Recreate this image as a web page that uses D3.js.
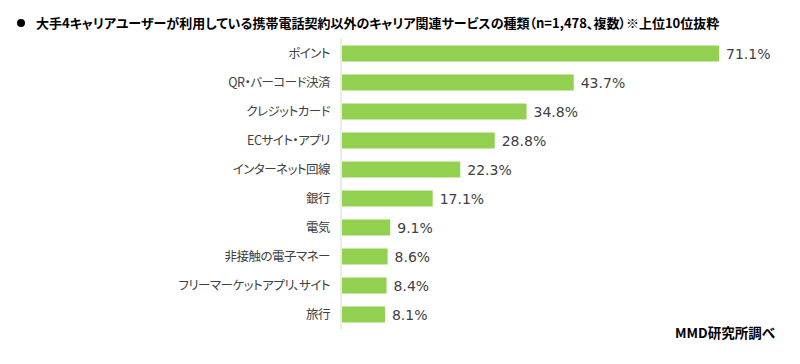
<!DOCTYPE html>
<html>
<head>
<meta charset="utf-8">
<script src="https://cdn.jsdelivr.net/npm/d3@7"></script>
<style>
body{margin:0;background:#fff;}
text{font-family:"Noto Sans CJK JP","Noto Sans",sans-serif;font-feature-settings:"palt";}
text.val{font-family:"DejaVu Sans",sans-serif;}
</style>
</head>
<body>
<div id="chart"></div>
<script>
var width=800,height=364;
var categories=["ポイント","QR・バーコード決済","クレジットカード","ECサイト・アプリ","インターネット回線","銀行","電気","非接触の電子マネー","フリーマーケットアプリ、サイト","旅行"];
var values=[71.1,43.7,34.8,28.8,22.3,17.1,9.1,8.6,8.4,8.1];
var title="大手4キャリアユーザーが利用している携帯電話契約以外のキャリア関連サービスの種類（n=1,478、複数）※上位10位抜粋";
var source="MMD研究所調べ";

var svg=d3.select('#chart').append('svg')
    .attr('width',width)
    .attr('height',height);

// タイトル
svg.append('circle').attr('cx',21).attr('cy',23).attr('r',4).attr('fill','#000');
svg.append('text')
    .attr('x',36).attr('y',28)
    .attr('font-size',13).attr('font-weight','bold').attr('fill','#000')
    .text(title);

var x=d3.scaleLinear().domain([0,71.1]).range([342,719]);
var y=d3.scaleBand().domain(categories).range([39,329]).paddingInner(0.45).paddingOuter(0.225);

// 軸線
svg.append('line')
    .attr('x1',341).attr('x2',341)
    .attr('y1',38).attr('y2',329)
    .attr('stroke','#d9d9d9').attr('stroke-width',1);

var g=svg.append('g');
g.selectAll('rect').data(values).enter().append('rect')
    .attr('x',x(0))
    .attr('y',function(d,i){return y(categories[i]);})
    .attr('width',function(d){return x(d)-x(0);})
    .attr('height',y.bandwidth())
    .attr('fill','#92d050');

g.selectAll('.val').data(values).enter().append('text')
    .attr('class','val')
    .attr('x',function(d){return x(d)+7;})
    .attr('y',function(d,i){return y(categories[i])+y.bandwidth()/2;})
    .attr('dy','0.36em')
    .attr('font-size',14).attr('fill','#404040')
    .text(function(d){return d.toFixed(1)+'%';});

g.selectAll('.cat').data(categories).enter().append('text')
    .attr('class','cat')
    .attr('x',330)
    .attr('y',function(d){return y(d)+y.bandwidth()/2;})
    .attr('dy','0.36em')
    .attr('text-anchor','end')
    .attr('font-size',12.5).attr('letter-spacing','-0.5px').attr('fill','#404040')
    .text(function(d){return d;});

svg.append('text')
    .attr('x',775).attr('y',338)
    .attr('text-anchor','end')
    .attr('font-size',13.5).attr('font-weight','bold').attr('fill','#000')
    .text(source);
</script>
</body>
</html>
